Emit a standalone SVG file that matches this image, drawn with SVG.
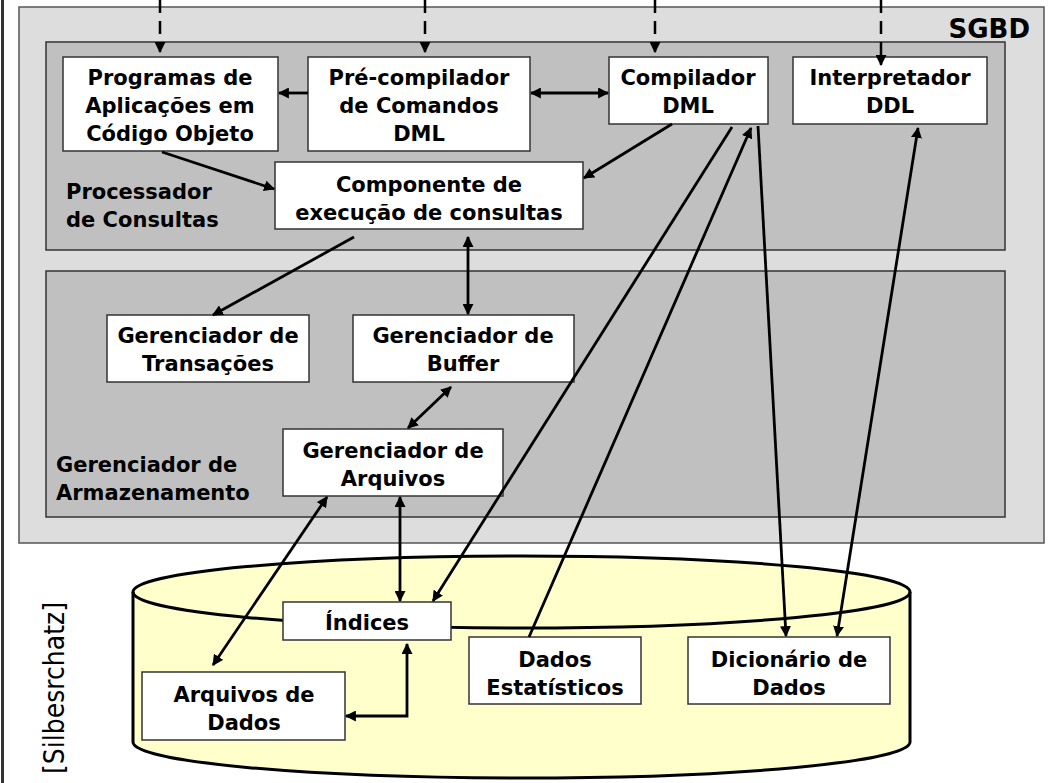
<svg xmlns="http://www.w3.org/2000/svg" width="1052" height="783" viewBox="0 0 1052 783">
<defs>
<style>
.box{fill:#ffffff;stroke:#333333;stroke-width:1.5}
.t{font-family:"DejaVu Sans",sans-serif;font-weight:bold;font-size:21px;fill:#000;text-anchor:middle}
.lbl{font-family:"DejaVu Sans",sans-serif;font-weight:bold;font-size:21px;fill:#000}
.c{fill:none;stroke:#000;stroke-width:2.8}
.d{fill:none;stroke:#000;stroke-width:2.5;stroke-dasharray:13 8}
</style>
<marker id="ah" viewBox="0 0 10 10" refX="9" refY="5" markerWidth="11" markerHeight="11" markerUnits="userSpaceOnUse" orient="auto-start-reverse">
<path d="M0,0 L10,5 L0,10 z" fill="#000"/>
</marker>
</defs>
<rect x="0" y="0" width="1052" height="783" fill="#ffffff"/>
<line x1="2.5" y1="0" x2="2.5" y2="783" stroke="#333" stroke-width="3"/>
<g id="sgbd">
<rect x="19" y="7" width="1025" height="536" fill="#dddddd" stroke="#555555" stroke-width="1.5"/>
<text x="1030" y="38" style="font-family:'DejaVu Sans',sans-serif;font-weight:bold;font-size:26px;text-anchor:end">SGBD</text>
</g>
<g id="processador">
<rect x="46" y="42" width="959" height="208" fill="#c0c0c0" stroke="#333333" stroke-width="1.5"/>
<text class="lbl" x="66" y="199">Processador</text>
<text class="lbl" x="66" y="227">de Consultas</text>
</g>
<g id="armazenamento">
<rect x="46" y="271" width="959" height="246" fill="#c0c0c0" stroke="#333333" stroke-width="1.5"/>
<text class="lbl" x="56" y="472">Gerenciador de</text>
<text class="lbl" x="56" y="500">Armazenamento</text>
</g>
<g id="disco">
<path d="M133,592 L133,742 A388.5,36 0 0 0 910,742 L910,592 A388.5,36 0 0 0 133,592 Z" fill="#ffffcc" stroke="#000" stroke-width="3"/>
<path d="M133,592 A388.5,36 0 0 0 910,592" fill="none" stroke="#000" stroke-width="3"/>
</g>
<g id="silberschatz">
<text transform="translate(64,688) rotate(-90)" text-anchor="middle" textLength="172" lengthAdjust="spacingAndGlyphs" style="font-family:'DejaVu Sans Condensed','DejaVu Sans',sans-serif;font-size:29px">[Silbesrchatz]</text>
</g>
<g id="programas">
<rect class="box" x="63" y="57" width="215" height="94"/>
<text class="t" x="170" y="85">Programas de</text>
<text class="t" x="170" y="113">Aplicações em</text>
<text class="t" x="170" y="141">Código Objeto</text>
</g>
<g id="precompilador">
<rect class="box" x="308" y="57" width="222" height="94"/>
<text class="t" x="419" y="85">Pré-compilador</text>
<text class="t" x="419" y="113">de Comandos</text>
<text class="t" x="419" y="141">DML</text>
</g>
<g id="compilador">
<rect class="box" x="609" y="57" width="159" height="67"/>
<text class="t" x="688" y="85">Compilador</text>
<text class="t" x="688" y="113">DML</text>
</g>
<g id="interpretador">
<rect class="box" x="793" y="57" width="194" height="67"/>
<text class="t" x="890" y="85">Interpretador</text>
<text class="t" x="890" y="113">DDL</text>
</g>
<g id="componente">
<rect class="box" x="275" y="162" width="308" height="67"/>
<text class="t" x="429" y="192">Componente de</text>
<text class="t" x="429" y="220">execução de consultas</text>
</g>
<g id="transacoes">
<rect class="box" x="107" y="315" width="202" height="67"/>
<text class="t" x="208" y="343">Gerenciador de</text>
<text class="t" x="208" y="371">Transações</text>
</g>
<g id="buffer">
<rect class="box" x="353" y="315" width="221" height="67"/>
<text class="t" x="463" y="343">Gerenciador de</text>
<text class="t" x="463" y="371">Buffer</text>
</g>
<g id="arquivos">
<rect class="box" x="283" y="429" width="220" height="67"/>
<text class="t" x="393" y="458">Gerenciador de</text>
<text class="t" x="393" y="486">Arquivos</text>
</g>
<g id="indices">
<rect class="box" x="283" y="602" width="168" height="38"/>
<text class="t" x="367" y="630">Índices</text>
</g>
<g id="arquivosdados">
<rect class="box" x="142" y="672" width="203" height="68"/>
<text class="t" x="244" y="702">Arquivos de</text>
<text class="t" x="244" y="730">Dados</text>
</g>
<g id="estatisticos">
<rect class="box" x="469" y="637" width="172" height="67"/>
<text class="t" x="555" y="667">Dados</text>
<text class="t" x="555" y="695">Estatísticos</text>
</g>
<g id="dicionario">
<rect class="box" x="688" y="637" width="202" height="67"/>
<text class="t" x="789" y="667">Dicionário de</text>
<text class="t" x="789" y="695">Dados</text>
</g>
<g id="connectors">
<line class="d" x1="160" y1="0" x2="160" y2="52" marker-end="url(#ah)"/>
<line class="d" x1="425" y1="0" x2="425" y2="52" marker-end="url(#ah)"/>
<line class="d" x1="655" y1="0" x2="655" y2="52" marker-end="url(#ah)"/>
<line class="d" x1="881" y1="0" x2="881" y2="65" marker-end="url(#ah)"/>
<line class="c" x1="308" y1="93" x2="279" y2="93" marker-end="url(#ah)"/>
<line class="c" x1="531" y1="93" x2="608" y2="93" marker-start="url(#ah)" marker-end="url(#ah)"/>
<line class="c" x1="162" y1="152" x2="274" y2="189" marker-end="url(#ah)"/>
<line class="c" x1="672" y1="124" x2="584" y2="178" marker-end="url(#ah)"/>
<line class="c" x1="354" y1="237" x2="213" y2="315" marker-end="url(#ah)"/>
<line class="c" x1="468" y1="237" x2="468" y2="314" marker-start="url(#ah)" marker-end="url(#ah)"/>
<line class="c" x1="451" y1="387" x2="408" y2="428" marker-start="url(#ah)" marker-end="url(#ah)"/>
<line class="c" x1="327" y1="497" x2="213" y2="665" marker-start="url(#ah)" marker-end="url(#ah)"/>
<line class="c" x1="400" y1="497" x2="400" y2="601" marker-start="url(#ah)" marker-end="url(#ah)"/>
<line class="c" x1="732" y1="127" x2="433" y2="601" marker-end="url(#ah)"/>
<line class="c" x1="529" y1="637" x2="751" y2="128" marker-end="url(#ah)"/>
<line class="c" x1="758" y1="126" x2="786" y2="636" marker-end="url(#ah)"/>
<line class="c" x1="837" y1="636" x2="918" y2="128" marker-start="url(#ah)" marker-end="url(#ah)"/>
<polyline class="c" points="407,644 407,716 346,716" marker-start="url(#ah)" marker-end="url(#ah)"/>
</g>
</svg>
